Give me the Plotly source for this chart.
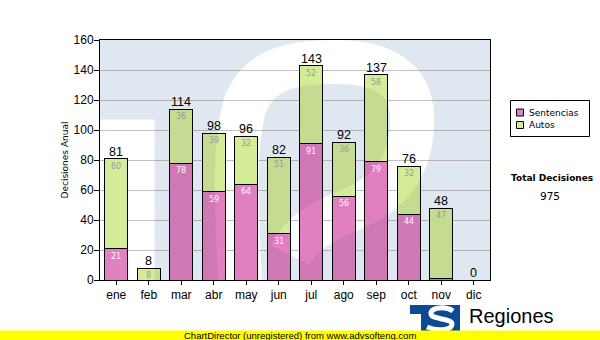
import base64
import plotly.graph_objects as go

# ---- data -------------------------------------------------------------
months = ["ene", "feb", "mar", "abr", "may", "jun",
          "jul", "ago", "sep", "oct", "nov", "dic"]
sentencias = [21, 0, 78, 59, 64, 31, 91, 56, 79, 44, 1, 0]
autos = [60, 8, 36, 39, 32, 51, 52, 36, 58, 32, 47, 0]
series_names = ["Sentencias", "Autos"]
y_ticks = [0, 20, 40, 60, 80, 100, 120, 140, 160]
y_title = "Decisiones Anual"
total_title = "Total Decisiones"

totals = [s + a for s, a in zip(sentencias, autos)]
grand_total = sum(totals)

# ---- styling ----------------------------------------------------------
W, H = 600, 340
PL, PR, PT, PB = 100, 490, 40, 280          # plot area in pixels
PINK = "#e080c0"
GREEN = "#d4ec98"
FONT_NUM = "Liberation Sans, Arial, sans-serif"
FONT_UI = "DejaVu Sans, Verdana, sans-serif"


def px(xp):
    return (xp - PL) / (PR - PL)


def py(yp):
    return (PB - yp) / (PB - PT)


def svg_uri(svg):
    return "data:image/svg+xml;base64," + base64.b64encode(svg.encode()).decode()


# background "TS" emblem inside the plot area (pixel coordinates)
emblem_holes = (
    '<rect x="100" y="120" width="54" height="160"/>'
    '<path d="M 240 290 C 238 220, 232 150, 245 105 C 258 70, 290 62, 335 62 '
    'C 385 62, 410 80, 412 115 C 414 160, 395 192, 350 210 C 320 222, 300 235, 290 255" '
    'fill="none" stroke-width="44"/>'
)


def emblem(color, opacity):
    return svg_uri(
        '<svg xmlns="http://www.w3.org/2000/svg" width="390" height="240" '
        'viewBox="100 40 390 240" preserveAspectRatio="none">'
        '<defs><mask id="m"><rect x="100" y="40" width="390" height="240" fill="white"/>'
        '<g fill="black" stroke="black">' + emblem_holes + '</g></mask></defs>'
        f'<rect x="100" y="40" width="390" height="240" fill="{color}" '
        f'fill-opacity="{opacity}" mask="url(#m)"/></svg>'
    )


# small logo at the bottom right of the page
logo_svg = svg_uri(
    '<svg xmlns="http://www.w3.org/2000/svg" width="600" height="340" '
    'viewBox="0 0 600 340" preserveAspectRatio="none">'
    '<rect x="410" y="305" width="50" height="26" fill="#0d4a94"/>'
    '<rect x="410" y="314" width="11" height="17" fill="white"/>'
    '<path d="M 453 311 C 446 306, 430 307, 431 314 C 432 320, 452 318, 452 324 '
    'C 452 331, 436 331, 427 327" fill="none" stroke="white" stroke-width="5"/>'
    '</svg>'
)

fig = go.Figure()
fig.add_trace(go.Bar(
    x=months, y=sentencias, name=series_names[0],
    marker=dict(color=PINK, line=dict(color="black", width=1)),
    hoverinfo="skip",
))
fig.add_trace(go.Bar(
    x=months, y=autos, name=series_names[1],
    marker=dict(color=GREEN, line=dict(color="black", width=1)),
    hoverinfo="skip",
))

annotations = []
for m, s, a, t in zip(months, sentencias, autos, totals):
    annotations.append(dict(
        x=m, y=t, xref="x", yref="y", text=str(t), showarrow=False,
        xanchor="center", yanchor="bottom", yshift=-2,
        font=dict(family=FONT_NUM, size=12.5, color="black"),
    ))
    if s >= 5:
        annotations.append(dict(
            x=m, y=s, xref="x", yref="y", text=str(s), showarrow=False,
            xanchor="center", yanchor="top", yshift=-1,
            font=dict(family=FONT_UI, size=8, color="#fff4ff"),
        ))
    if a >= 5:
        annotations.append(dict(
            x=m, y=t, xref="x", yref="y", text=str(a), showarrow=False,
            xanchor="center", yanchor="top", yshift=-1,
            font=dict(family=FONT_UI, size=8, color="#999999"),
        ))

# legend box drawn by hand
shapes = [
    dict(type="rect", xref="paper", yref="paper",
         x0=px(510.5), x1=px(589.5), y0=py(136.5), y1=py(100.5),
         line=dict(color="black", width=1), fillcolor="white"),
]
for i, (name, col) in enumerate(zip(series_names, [PINK, GREEN])):
    yc = 112.5 + 12.5 * i
    shapes.append(dict(type="rect", xref="paper", yref="paper",
                       x0=px(516.5), x1=px(523.5), y0=py(yc + 3.5), y1=py(yc - 3.5),
                       line=dict(color="black", width=1), fillcolor=col))
    annotations.append(dict(xref="paper", yref="paper", x=px(527), y=py(yc),
                            text=name, showarrow=False, xanchor="left", yanchor="middle",
                            font=dict(family=FONT_UI, size=9, color="black")))

annotations.append(dict(xref="paper", yref="paper", x=px(551.5), y=py(177.5),
                        text="<b>" + total_title + "</b>", showarrow=False,
                        xanchor="center", yanchor="middle",
                        font=dict(family=FONT_UI, size=9, color="black")))
annotations.append(dict(xref="paper", yref="paper", x=px(550), y=py(196),
                        text=str(grand_total), showarrow=False,
                        xanchor="center", yanchor="middle",
                        font=dict(family=FONT_UI, size=10.5, color="black")))

# yellow footer band
shapes.append(dict(type="rect", xref="paper", yref="paper",
                   x0=px(0), x1=px(600), y0=py(340), y1=py(330.5),
                   line=dict(width=0), fillcolor="#ffff00"))
annotations.append(dict(xref="paper", yref="paper", x=px(300), y=py(335),
                        text="ChartDirector (unregistered) from www.advsofteng.com",
                        showarrow=False, xanchor="center", yanchor="middle",
                        font=dict(family=FONT_NUM, size=9.5, color="black")))
annotations.append(dict(xref="paper", yref="paper", x=px(467), y=py(316),
                        text="Regiones", showarrow=False, xanchor="left", yanchor="middle",
                        font=dict(family=FONT_NUM, size=20, color="black")))

fig.update_layout(
    width=W, height=H,
    margin=dict(l=PL, r=W - PR, t=PT, b=H - PB, pad=0),
    paper_bgcolor="white", plot_bgcolor="white",
    barmode="stack", bargap=0.28,
    showlegend=False,
    annotations=annotations,
    shapes=shapes,
    images=[
        dict(source=emblem("#f0fafe", 1), xref="paper", yref="paper",
             x=0, y=1, sizex=1, sizey=1, xanchor="left", yanchor="top",
             sizing="stretch", layer="below"),
        dict(source=emblem("#00003c", 0.071), xref="paper", yref="paper",
             x=0, y=1, sizex=1, sizey=1, xanchor="left", yanchor="top",
             sizing="stretch", layer="above"),
        dict(source=logo_svg, xref="paper", yref="paper",
             x=px(0), y=py(0), sizex=600 / 390, sizey=340 / 240,
             xanchor="left", yanchor="top", sizing="stretch", layer="above"),
    ],
    xaxis=dict(
        showline=True, linecolor="black", linewidth=1, mirror=True,
        ticks="outside", ticklen=4, tickcolor="black", showgrid=False,
        tickfont=dict(family=FONT_NUM, size=12, color="black"),
    ),
    yaxis=dict(
        range=[0, 160], tickvals=y_ticks,
        showline=True, linecolor="black", linewidth=1, mirror=True,
        ticks="outside", ticklen=5, tickcolor="black", ticklabelstandoff=-2,
        showgrid=True, gridcolor="#c0c0c0", gridwidth=1, zeroline=False,
        tickfont=dict(family=FONT_NUM, size=12, color="black"),
        title=dict(text=y_title, standoff=3,
                   font=dict(family=FONT_UI, size=9, color="black")),
    ),
)

fig.write_html("out.html")
